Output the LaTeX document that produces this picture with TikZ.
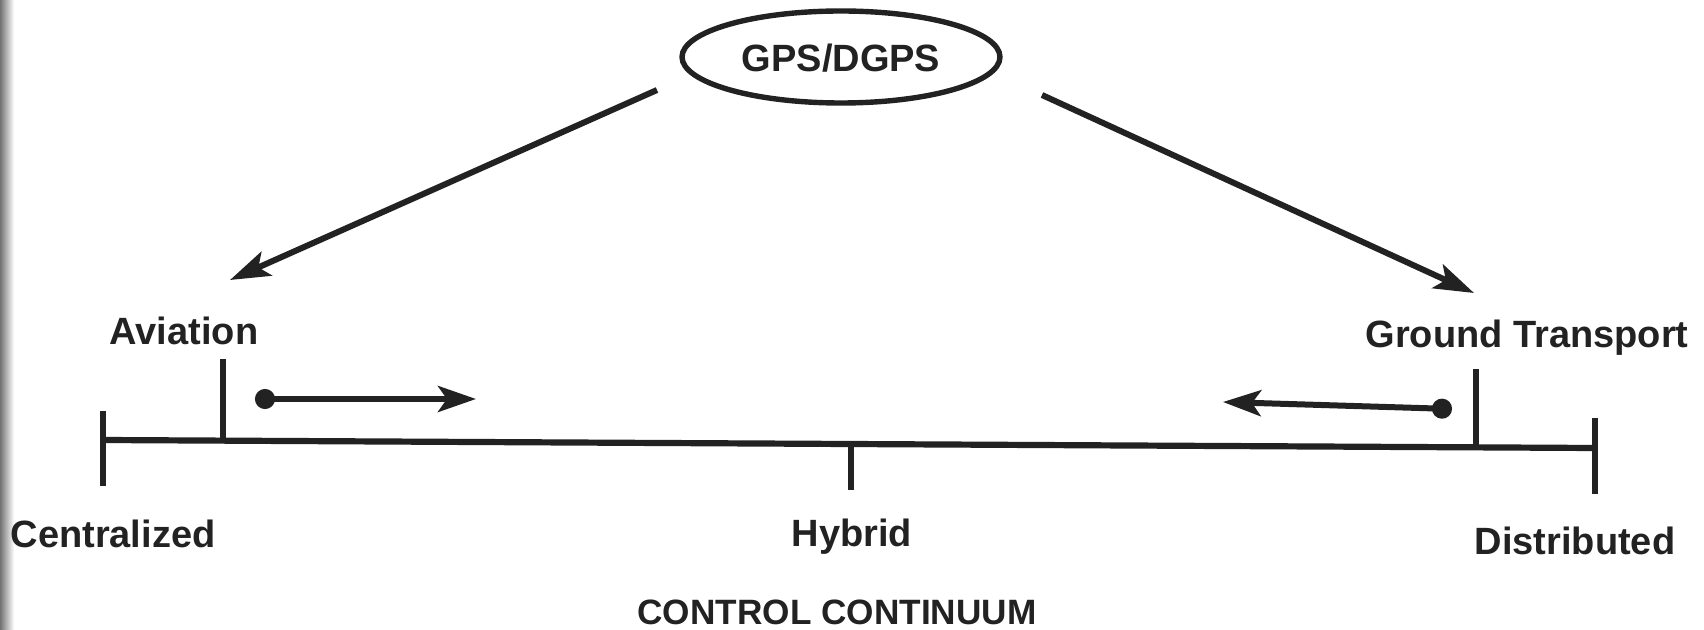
\documentclass[tikz,border=0pt]{standalone}
\usepackage{fontspec}
\setmainfont{Liberation Sans}
\usetikzlibrary{shapes.geometric,arrows.meta}
\definecolor{ink}{HTML}{222222}
\begin{document}
\begin{tikzpicture}[x=0.5pt,y=-0.5pt,
  lab/.style={font=\fontsize{19}{22}\selectfont\bfseries, inner sep=0pt, text=ink},
  axis/.style={line width=3.1pt, draw=ink},
  tick/.style={line width=3pt, draw=ink},
  bigarrow/.style={line width=3pt, draw=ink, -{Stealth[length=20pt,width=13pt,inset=4.5pt]}},
  smallarrow/.style={line width=3pt, draw=ink, {Circle[length=10pt]}-{Stealth[length=19pt,width=13pt,inset=4.5pt]}},
  oval/.style={ellipse, draw=ink, line width=2.7pt, minimum width=159pt, minimum height=46pt, inner sep=0pt}
]
\useasboundingbox (0,0) rectangle (1704,630);
\fill[white] (0,0) rectangle (1704,630);
\shade[left color=black!55, right color=white] (0,0) rectangle (14,630);

% top node
\node[oval] (gps) at (841,57) {};
\node[lab] (gpst) at (841,58) {GPS/DGPS};

% connector ends
\coordinate (ls) at (657,90);
\coordinate (lt) at (230,280);
\coordinate (rs) at (1042,95);
\coordinate (rt) at (1474,293);
\draw[bigarrow] (ls) -- (lt);
\draw[bigarrow] (rs) -- (rt);

% labels above axis
\node[lab] (av) at (184,331) {Aviation};
\node[lab] (gt) at (1527,338) {Ground Transport};

% axis
\coordinate (al) at (103,440);
\coordinate (ar) at (1595,448);
\draw[axis] (al) -- (ar);
% end ticks
\coordinate (lt1) at (103,411);
\coordinate (lt2) at (103,486);
\draw[tick] (lt1) -- (lt2);
\coordinate (rt1) at (1595,418);
\coordinate (rt2) at (1595,494);
\draw[tick] (rt1) -- (rt2);
% hybrid tick
\coordinate (ht1) at (851,444);
\coordinate (ht2) at (851,490);
\draw[tick] (ht1) -- (ht2);
% aviation tick
\coordinate (avt1) at (223,359);
\coordinate (avt2) at (223,441);
\draw[tick] (avt1) -- (avt2);
% ground transport tick
\coordinate (gtt1) at (1476,369);
\coordinate (gtt2) at (1476,447);
\draw[tick] (gtt1) -- (gtt2);

% movement arrows
\coordinate (ad) at (255,399);
\coordinate (aa) at (476,399);
\draw[smallarrow] (ad) -- (aa);
\coordinate (gd) at (1452,409);
\coordinate (ga) at (1223,402);
\draw[smallarrow] (gd) -- (ga);

% labels below axis
\node[lab] (cen) at (113,534) {Centralized};
\node[lab] (hyb) at (852,537) {Hybrid};
\node[lab] (dis) at (1575,541) {Distributed};
\node[lab, font=\fontsize{17.6}{21}\selectfont\bfseries] (cc) at (837,612) {CONTROL CONTINUUM};
\end{tikzpicture}
\end{document}
